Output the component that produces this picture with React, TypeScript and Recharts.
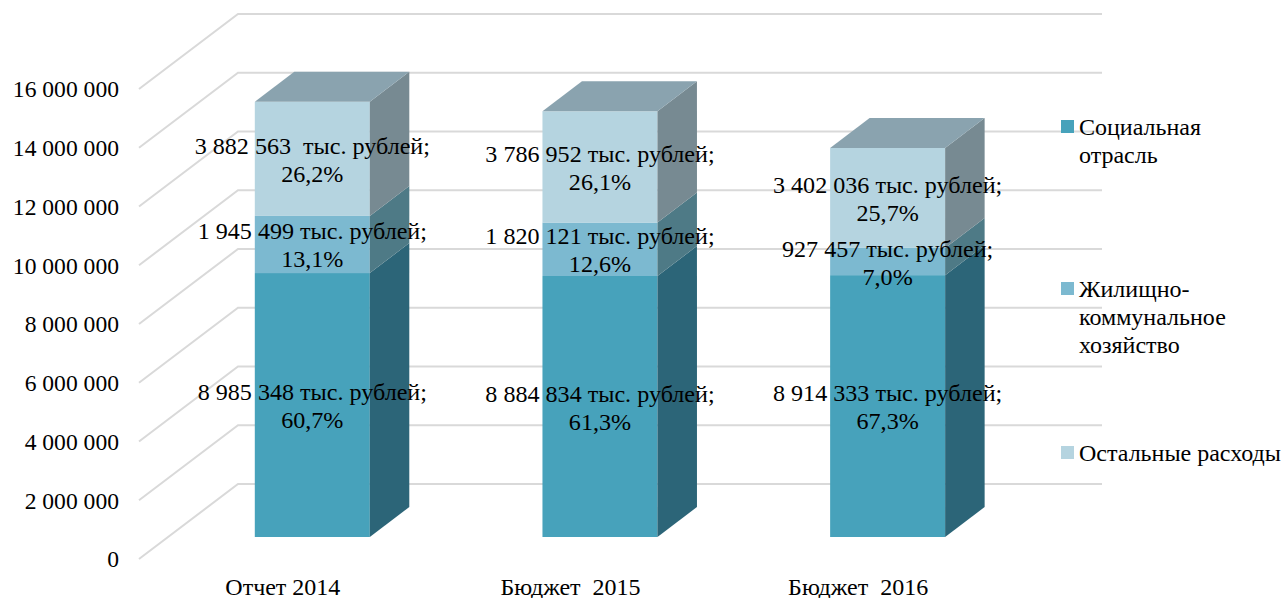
import { BarChart, Bar, XAxis, YAxis, CartesianGrid, Legend, LabelList } from "recharts";

const categories = ["Отчет 2014", "Бюджет\u00a0\u00a02015", "Бюджет\u00a0\u00a02016"];
const social = [8985348, 8884834, 8914333];
const housing = [1945499, 1820121, 927457];
const other = [3882563, 3786952, 3402036];
const socialLabels = ["8 985 348 тыс. рублей;", "8 884 834 тыс. рублей;", "8 914 333 тыс. рублей;"];
const housingLabels = ["1 945 499 тыс. рублей;", "1 820 121 тыс. рублей;", "927 457 тыс. рублей;"];
const otherLabels = ["3 882 563  тыс. рублей;", "3 786 952 тыс. рублей;", "3 402 036 тыс. рублей;"];
const socialPct = ["60,7%", "61,3%", "67,3%"];
const housingPct = ["13,1%", "12,6%", "7,0%"];
const otherPct = ["26,2%", "26,1%", "25,7%"];
const yTicks = [0, 2000000, 4000000, 6000000, 8000000, 10000000, 12000000, 14000000, 16000000];

const data = categories.map((name, i) => ({
  name,
  social: social[i],
  housing: housing[i],
  other: other[i],
}));

const FONT = '"Liberation Serif", "Times New Roman", serif';
const TICK_SIZE = 23.6;
const LABEL_SIZE = 24.1;

// 3D offsets: floor depth of the chart box, and where the bars sit inside it
const WALL_DX = 99;
const WALL_DY = 75;
const BAR_DX = 29.5;
const BAR_DY = 22;
const DEPTH_DX = 39.5;
const DEPTH_DY = 30;

const legendItems = [
  { lines: ["Социальная", "отрасль"], color: "#47a2bb", top: 113 },
  { lines: ["Жилищно-", "коммунальное", "хозяйство"], color: "#7cb9d0", top: 275 },
  { lines: ["Остальные расходы"], color: "#b5d4e0", top: 439 },
];

const barShape = (side: string, top?: string) => (props: any) => {
  const x = props.x + BAR_DX;
  const y = props.y - BAR_DY;
  const { width, height, fill } = props;
  const r = x + width;
  return (
    <g>
      <rect x={x} y={y} width={width} height={height} fill={fill} />
      <polygon
        points={`${r},${y} ${r + DEPTH_DX},${y - DEPTH_DY} ${r + DEPTH_DX},${y + height - DEPTH_DY} ${r},${y + height}`}
        fill={side}
      />
      {top && (
        <polygon
          points={`${x},${y} ${x + DEPTH_DX},${y - DEPTH_DY} ${r + DEPTH_DX},${y - DEPTH_DY} ${r},${y}`}
          fill={top}
        />
      )}
    </g>
  );
};

const labelContent = (names: string[], pcts: string[]) => (props: any) => {
  const { x, y, width, height, index } = props;
  const cx = x + width / 2 + BAR_DX;
  const cy = y + height / 2 - BAR_DY;
  return (
    <text
      textAnchor="middle"
      fontFamily={FONT}
      fontSize={LABEL_SIZE}
      fill="#000"
      style={{ whiteSpace: "pre" }}
    >
      <tspan x={cx} y={cy - 5}>{names[index]}</tspan>
      <tspan x={cx} y={cy + 23}>{pcts[index]}</tspan>
    </text>
  );
};

// each gridline runs along the side wall and then along the back wall
const gridLine = (props: any) => {
  const { x1, x2, y1 } = props;
  return (
    <polyline
      key={props.key ?? y1}
      points={`${x1},${y1} ${x1 + WALL_DX},${y1 - WALL_DY} ${x2 + WALL_DX + 1},${y1 - WALL_DY}`}
      fill="none"
      stroke="#d9d9d9"
      strokeWidth={2}
    />
  );
};

const renderLegend = () => (
  <div style={{ position: "relative", width: 0, height: 0, fontFamily: FONT, fontSize: 24 }}>
    {legendItems.map((item) => (
      <div key={item.color}>
        <div
          style={{
            position: "absolute",
            left: 1061,
            top: item.top + 7,
            width: 13,
            height: 13,
            background: item.color,
          }}
        />
        <div style={{ position: "absolute", left: 1079, top: item.top, lineHeight: "28px", whiteSpace: "nowrap", color: "#000" }}>
          {item.lines.map((line) => (
            <div key={line}>{line}</div>
          ))}
        </div>
      </div>
    ))}
  </div>
);

export default function App() {
  return (
    <div style={{ position: "absolute", left: 0, top: 0, width: 1283, height: 598, background: "#fff", overflow: "hidden" }}>
      <BarChart
        width={1283}
        height={598}
        data={data}
        barCategoryGap="30%"
        margin={{ top: 89, right: 281, bottom: 0, left: 0 }}
      >
        <CartesianGrid vertical={false} horizontal={gridLine} />
        <XAxis
          dataKey="name"
          height={39}
          axisLine={false}
          tickLine={false}
          tickMargin={13}
          interval={0}
          tick={{ fontFamily: FONT, fontSize: 24, fill: "#000" }}
        />
        <YAxis
          width={139}
          domain={[0, 16000000]}
          ticks={yTicks}
          axisLine={false}
          tickLine={false}
          tickSize={0}
          tickMargin={20}
          tickFormatter={(v: number) => String(v).replace(/\B(?=(\d{3})+$)/g, " ")}
          tick={{ fontFamily: FONT, fontSize: TICK_SIZE, fill: "#000" }}
        />
        <Legend
          content={renderLegend}
          wrapperStyle={{ position: "absolute", left: 0, top: 0, width: 0, height: 0, pointerEvents: "none" }}
        />
        <Bar dataKey="social" stackId="a" fill="#47a2bb" isAnimationActive={false} shape={barShape("#2c6578")}>
          <LabelList content={labelContent(socialLabels, socialPct)} />
        </Bar>
        <Bar dataKey="housing" stackId="a" fill="#7cb9d0" isAnimationActive={false} shape={barShape("#4e7a86")}>
          <LabelList content={labelContent(housingLabels, housingPct)} />
        </Bar>
        <Bar dataKey="other" stackId="a" fill="#b5d4e0" isAnimationActive={false} shape={barShape("#778a92", "#8aa3af")}>
          <LabelList content={labelContent(otherLabels, otherPct)} />
        </Bar>
      </BarChart>
    </div>
  );
}
